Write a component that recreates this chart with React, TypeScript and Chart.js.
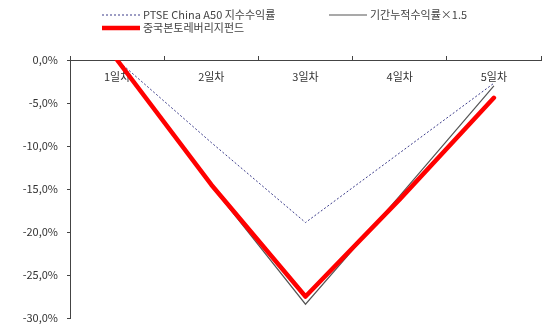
import React, { useEffect, useRef } from "react";
import { Chart, registerables } from "chart.js";

Chart.register(...registerables);

const categories = ["1일차", "2일차", "3일차", "4일차", "5일차"];
const a50Returns = [0, -9.6, -18.9, -10.8, -2.7];
const cumulativeX15 = [0, -14.6, -28.4, -15.8, -3.0];
const leverageFund = [0, -14.5, -27.5, -16.2, -4.4];
const yMin = -30;
const yMax = 0;
const yStep = 5;

const FONT = "'Noto Sans CJK KR', 'Noto Sans', sans-serif";

const legendPlugin = {
  id: "customLegend",
  afterDraw(chart: any) {
    const ctx = chart.ctx;
    const ds = chart.data.datasets;
    const slots = [
      { i: 0, x: 102, y: 15 },
      { i: 1, x: 329, y: 15 },
      { i: 2, x: 102, y: 28 },
    ];
    ctx.save();
    for (const s of slots) {
      const d = ds[s.i];
      ctx.beginPath();
      ctx.strokeStyle = d.borderColor;
      ctx.lineWidth = d.borderWidth;
      ctx.setLineDash(d.borderDash || []);
      ctx.lineCap = "butt";
      ctx.moveTo(s.x, s.y);
      ctx.lineTo(s.x + 38, s.y);
      ctx.stroke();
      ctx.setLineDash([]);
      ctx.fillStyle = "#444";
      ctx.font = `11px ${FONT}`;
      ctx.textBaseline = "middle";
      ctx.textAlign = "left";
      ctx.fillText(d.label, s.x + 41, s.y);
    }
    ctx.restore();
  },
};

export default function App() {
  const ref = useRef<HTMLCanvasElement | null>(null);
  useEffect(() => {
    if (!ref.current) return;
    const chart = new Chart(ref.current, {
      type: "line",
      data: {
        labels: categories,
        datasets: [
          {
            label: "PTSE China A50 지수수익률",
            data: a50Returns,
            borderColor: "#3c3c8a",
            borderWidth: 1,
            borderDash: [2, 2],
            pointRadius: 0,
            tension: 0,
            order: 2,
          },
          {
            label: "기간누적수익률×1.5",
            data: cumulativeX15,
            borderColor: "#555555",
            borderWidth: 1.2,
            pointRadius: 0,
            tension: 0,
            order: 1,
          },
          {
            label: "중국본토레버리지펀드",
            data: leverageFund,
            borderColor: "#ff0000",
            borderWidth: 4.5,
            borderCapStyle: "round",
            borderJoinStyle: "round",
            pointRadius: 0,
            tension: 0,
            order: 0,
          },
        ],
      },
      options: {
        responsive: false,
        animation: false,
        layout: { padding: { left: 0, right: 3, top: 60, bottom: 6 } },
        plugins: {
          legend: { display: false },
          tooltip: { enabled: false },
        },
        scales: {
          x: {
            position: { y: 0 } as any,
            offset: true,
            grid: {
              display: true,
              offset: true,
              drawOnChartArea: false,
              drawTicks: true,
              tickLength: -5,
              color: "#444",
            },
            border: { display: true, color: "#444", width: 1 },
            ticks: {
              color: "#333",
              font: { family: FONT, size: 11 },
              padding: 15,
              maxRotation: 0,
              autoSkip: false,
            },
            afterFit: (scale: any) => {
              scale.height = 0;
              scale.paddingTop = 0;
              scale.paddingBottom = 0;
            },
          },
          y: {
            min: yMin,
            max: yMax,
            grid: {
              display: true,
              drawOnChartArea: false,
              drawTicks: true,
              tickLength: 3,
              color: "#444",
            },
            border: { display: true, color: "#444", width: 1 },
            ticks: {
              stepSize: yStep,
              color: "#333",
              font: { family: FONT, size: 11 },
              padding: 9,
              callback: (v: any) => Number(v).toFixed(1).replace(".", ",") + "%",
            },
            afterFit: (scale: any) => {
              scale.width = 70;
              scale.paddingTop = 0;
              scale.paddingBottom = 0;
            },
          },
        },
      },
      plugins: [legendPlugin],
    });
    return () => chart.destroy();
  }, []);
  return (
    <div style={{ position: "absolute", left: 0, top: 0, width: 544, height: 324, background: "#fff" }}>
      <canvas ref={ref} width={544} height={324} />
    </div>
  );
}
